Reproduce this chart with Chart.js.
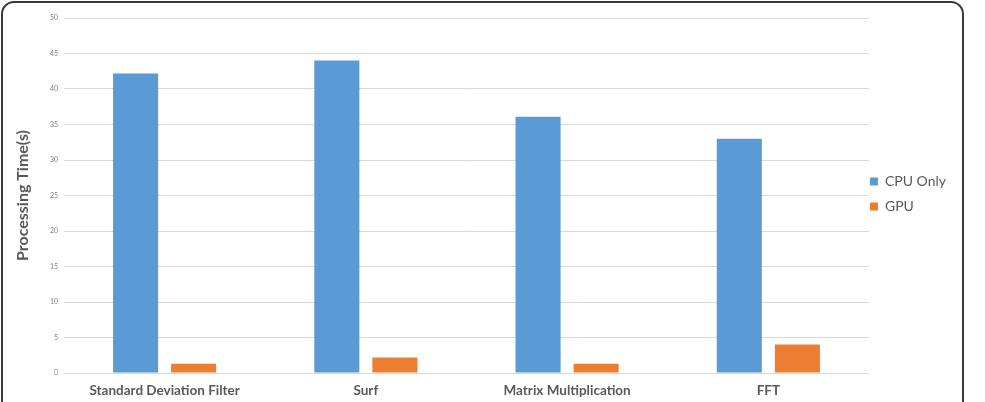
<!DOCTYPE html>
<html>
<head>
<meta charset="utf-8">
<script src="https://cdn.jsdelivr.net/npm/chart.js@4.4.0/dist/chart.umd.min.js"></script>
<style>
  html, body { margin: 0; padding: 0; background: #fff; }
  #wrap { position: relative; width: 985px; height: 402px; overflow: hidden; }
  #frame {
    position: absolute; left: 1px; top: 1px; width: 959px; height: 430px;
    border: 2px solid #3a3a3a; border-radius: 13px;
  }
  #myChart { position: absolute; left: 0; top: 0; }
</style>
</head>
<body>
<div id="wrap">
  <div id="frame"></div>
  <canvas id="myChart" width="985" height="402"></canvas>
</div>
<script>
const categories = ["Standard Deviation Filter", "Surf", "Matrix Multiplication", "FFT"];
const cpuOnly = [42.2, 44.0, 36.1, 33.0];
const gpu = [1.3, 2.2, 1.3, 4.0];
const yTicks = [0, 5, 10, 15, 20, 25, 30, 35, 40, 45, 50];

const labelColor = "#595959";

// nudge the legend closer to the plot and up to the middle of it
const legendNudge = {
  id: "legendNudge",
  afterLayout(chart) {
    const lg = chart.legend;
    lg.left -= 10; lg.right -= 10;
    lg.top -= 16; lg.bottom -= 16;
  }
};

const ctx = document.getElementById('myChart').getContext('2d');
const myChart = new Chart(ctx, {
  type: "bar",
  data: {
    labels: categories,
    datasets: [
      {
        label: "CPU Only",
        data: cpuOnly,
        backgroundColor: "#5b9bd5",
        borderWidth: 0,
        categoryPercentage: 0.577,
        barPercentage: 0.776,
      },
      {
        label: "GPU",
        data: gpu,
        backgroundColor: "#ed7d31",
        borderWidth: 0,
        categoryPercentage: 0.577,
        barPercentage: 0.776,
      },
    ],
  },
  plugins: [legendNudge],
  options: {
    responsive: false,
    animation: false,
    layout: { padding: { top: 18, right: 19, bottom: 0, left: 0 } },
    plugins: {
      tooltip: { enabled: false },
      legend: {
        position: "right",
        labels: {
          boxWidth: 8,
          boxHeight: 8,
          padding: 11,
          color: labelColor,
          font: { family: "Lato", size: 14 },
        },
      },
    },
    scales: {
      x: {
        grid: { display: false, drawTicks: false },
        border: { display: false },
        ticks: {
          padding: 10,
          color: labelColor,
          font: { family: "Lato", size: 13.5, weight: "bold" },
        },
        afterFit: (scale) => { scale.height = 29; },
      },
      y: {
        min: 0,
        max: 50,
        afterBuildTicks: (scale) => { scale.ticks = yTicks.map(v => ({ value: v })); },
        grid: { color: "#d9d9d9", lineWidth: 1, drawTicks: false },
        border: { display: false },
        ticks: {
          padding: 6,
          color: "#7f7f7f",
          font: { family: "Lato", size: 7 },
        },
        title: {
          display: true,
          text: "Processing Time(s)",
          color: labelColor,
          padding: { top: 13, bottom: 0 },
          font: { family: "Lato", size: 16, weight: "bold" },
        },
        afterFit: (scale) => { scale.width = 64; },
      },
    },
  },
});
</script>
</body>
</html>
